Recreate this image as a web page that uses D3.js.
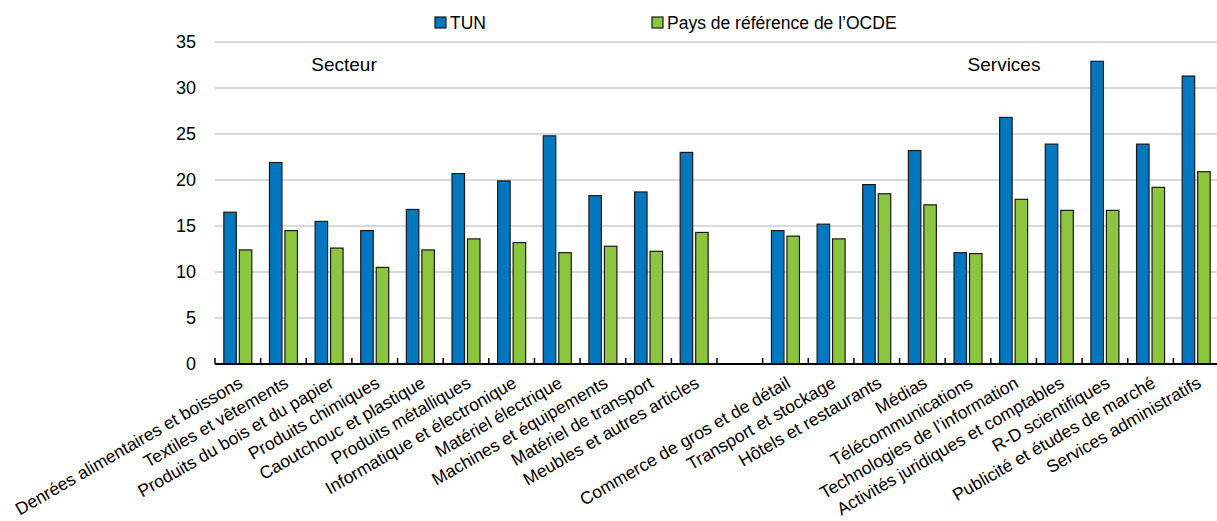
<!DOCTYPE html>
<html>
<head>
<meta charset="utf-8">
<script src="https://cdn.jsdelivr.net/npm/d3@7"></script>
<style>
  html, body { margin: 0; padding: 0; background: #fff; }
  svg { display: block; font-family: "Liberation Sans", Arial, sans-serif; }
</style>
</head>
<body>
<svg id="chart" width="1217" height="521"></svg>
<script>
const categories = [
  "Denrées alimentaires et boissons", "Textiles et vêtements", "Produits du bois et du papier",
  "Produits chimiques", "Caoutchouc et plastique", "Produits métalliques",
  "Informatique et électronique", "Matériel électrique", "Machines et équipements",
  "Matériel de transport", "Meubles et autres articles", "",
  "Commerce de gros et de détail", "Transport et stockage", "Hôtels et restaurants",
  "Médias", "Télécommunications", "Technologies de l’information",
  "Activités juridiques et comptables", "R-D scientifiques", "Publicité et études de marché",
  "Services administratifs"
];
const tunValues = [16.5, 21.9, 15.5, 14.5, 16.8, 20.7, 19.9, 24.8, 18.3, 18.7, 23.0, null,
  14.5, 15.2, 19.5, 23.2, 12.1, 26.8, 23.9, 32.9, 23.9, 31.3];
const oecdValues = [12.4, 14.5, 12.6, 10.5, 12.4, 13.6, 13.2, 12.1, 12.8, 12.25, 14.3, null,
  13.9, 13.6, 18.5, 17.3, 12.0, 17.9, 16.7, 16.7, 19.2, 20.9];
const seriesNames = ["TUN", "Pays de référence de l’OCDE"];
const yTicks = [0, 5, 10, 15, 20, 25, 30, 35];
const groupLabels = ["Secteur", "Services"];

const colors = ["#0077be", "#8cc63f"];
const svg = d3.select("#chart");
const mLeft = 215, mRight = 1219, mTop = 42, mBottom = 364;

const x = d3.scaleBand().domain(d3.range(categories.length)).range([mLeft, mRight]).paddingInner(0).paddingOuter(0);
const y = d3.scaleLinear().domain([0, 35]).range([mBottom, mTop]);

// gridlines
svg.append("g").selectAll("line").data(yTicks.filter(d => d > 0)).join("line")
  .attr("x1", mLeft).attr("x2", 1217)
  .attr("y1", d => y(d)).attr("y2", d => y(d))
  .attr("stroke", "#d9d9d9").attr("stroke-width", 2);

// y axis labels
svg.append("g").selectAll("text").data(yTicks).join("text")
  .attr("x", 196).attr("y", d => y(d)).attr("dy", "0.35em")
  .attr("text-anchor", "end").attr("font-size", 18).attr("fill", "#000")
  .text(d => d);

// bars
const bw = 12.5, gap = 3;
const bw0 = x.bandwidth();
const off = (bw0 - (2 * bw + gap)) / 2;
const data = categories.map((c, i) => ({ i, v: [tunValues[i], oecdValues[i]] }));
const g = svg.append("g");
data.forEach(d => {
  d.v.forEach((v, s) => {
    if (v == null) return;
    g.append("rect")
      .attr("x", x(d.i) + off + s * (bw + gap))
      .attr("y", y(v))
      .attr("width", bw)
      .attr("height", y(0) - y(v))
      .attr("fill", colors[s])
      .attr("stroke", "#1a1a1a").attr("stroke-width", 1.2);
  });
});

// x axis line and ticks
svg.append("line").attr("x1", mLeft).attr("x2", 1217).attr("y1", mBottom).attr("y2", mBottom)
  .attr("stroke", "#000").attr("stroke-width", 2);
svg.append("g").selectAll("line").data(d3.range(categories.length + 1)).join("line")
  .attr("x1", i => mLeft + i * bw0).attr("x2", i => mLeft + i * bw0)
  .attr("y1", mBottom).attr("y2", mBottom - 6)
  .attr("stroke", "#000").attr("stroke-width", 1.5);

// x labels
svg.append("g").selectAll("text").data(data).join("text")
  .attr("transform", d => `translate(${x(d.i) + bw0 / 2 + 3},${mBottom + 17}) rotate(-30)`)
  .attr("text-anchor", "end").attr("dy", "0.35em")
  .attr("font-size", 17.5).attr("fill", "#000")
  .text(d => categories[d.i]);

// group labels
svg.append("text").attr("x", 344).attr("y", 64).attr("dy", "0.35em").attr("text-anchor", "middle")
  .attr("font-size", 19).text(groupLabels[0]);
svg.append("text").attr("x", 1004).attr("y", 64).attr("dy", "0.35em").attr("text-anchor", "middle")
  .attr("font-size", 19).text(groupLabels[1]);

// legend
const leg = [{ x: 435, name: seriesNames[0], c: colors[0] }, { x: 652, name: seriesNames[1], c: colors[1] }];
leg.forEach(l => {
  svg.append("rect").attr("x", l.x).attr("y", 17).attr("width", 11).attr("height", 11)
    .attr("fill", l.c).attr("stroke", "#1a1a1a").attr("stroke-width", 1.2);
  svg.append("text").attr("x", l.x + 15).attr("y", 23).attr("dy", "0.35em")
    .attr("font-size", 17.5).text(l.name);
});
</script>
</body>
</html>
